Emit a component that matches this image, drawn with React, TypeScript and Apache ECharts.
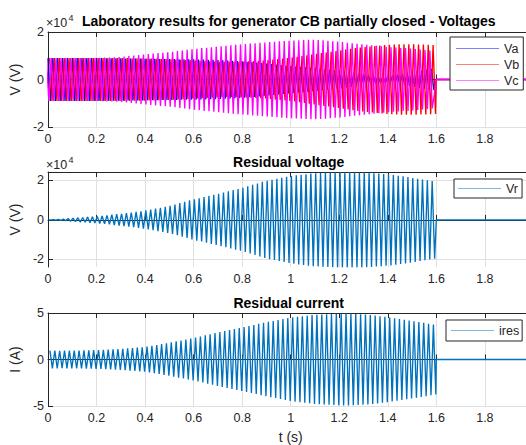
import React, { useEffect, useRef } from "react";
import * as echarts from "echarts";

// Carrier period (~10 cycles per 0.2 s)
const PERIOD = 0.02;
const END_T = 1.6;
const X_MAX = 2;
const VSCALE = 1e4;

const xTicks = ["0", "0.2", "0.4", "0.6", "0.8", "1", "1.2", "1.4", "1.6", "1.8"];

// Per-cycle peak amplitudes (x1e4 V)
const vaAmp = [
  0.9, 0.9, 0.9, 0.9, 0.9, 0.9, 0.9, 0.9, 0.9, 0.9,
  0.9, 0.9, 0.89, 0.89, 0.89, 0.89, 0.88, 0.88, 0.88, 0.88,
  0.87, 0.87, 0.87, 0.86, 0.86, 0.86, 0.86, 0.85, 0.85, 0.85,
  0.85, 0.84, 0.84, 0.83, 0.83, 0.82, 0.81, 0.8, 0.79, 0.78,
  0.77, 0.75, 0.73, 0.71, 0.69, 0.67, 0.65, 0.63, 0.61, 0.59,
  0.57, 0.55, 0.53, 0.51, 0.49, 0.47, 0.45, 0.43, 0.41, 0.39,
  0.37, 0.34, 0.31, 0.28, 0.25, 0.22, 0.19, 0.17, 0.15, 0.14,
  0.15, 0.18, 0.21, 0.24, 0.27, 0.31, 0.35, 0.39, 0.42, 0.45,
];
const vbAmp = [
  0.9, 0.9, 0.9, 0.9, 0.9, 0.9, 0.9, 0.9, 0.9, 0.9,
  0.9, 0.9, 0.9, 0.9, 0.9, 0.9, 0.9, 0.89, 0.89, 0.89,
  0.88, 0.88, 0.87, 0.86, 0.86, 0.85, 0.84, 0.83, 0.82, 0.81,
  0.8, 0.79, 0.78, 0.77, 0.76, 0.75, 0.75, 0.75, 0.75, 0.75,
  0.76, 0.77, 0.78, 0.79, 0.8, 0.82, 0.84, 0.86, 0.88, 0.9,
  0.93, 0.96, 0.99, 1.02, 1.05, 1.08, 1.11, 1.14, 1.17, 1.2,
  1.23, 1.26, 1.29, 1.32, 1.35, 1.37, 1.39, 1.41, 1.43, 1.45,
  1.46, 1.47, 1.48, 1.48, 1.48, 1.48, 1.47, 1.47, 1.46, 1.45,
];
const vcAmp = [
  0.9, 0.9, 0.9, 0.9, 0.9, 0.9, 0.9, 0.9, 0.9, 0.9,
  0.9, 0.91, 0.92, 0.93, 0.94, 0.95, 0.97, 0.99, 1.01, 1.03,
  1.05, 1.07, 1.09, 1.11, 1.13, 1.15, 1.17, 1.2, 1.22, 1.25,
  1.27, 1.29, 1.32, 1.34, 1.36, 1.38, 1.4, 1.42, 1.44, 1.46,
  1.47, 1.49, 1.51, 1.53, 1.55, 1.56, 1.58, 1.59, 1.61, 1.62,
  1.63, 1.64, 1.65, 1.66, 1.67, 1.67, 1.66, 1.65, 1.63, 1.61,
  1.6, 1.58, 1.55, 1.53, 1.5, 1.48, 1.46, 1.44, 1.42, 1.4,
  1.38, 1.36, 1.35, 1.33, 1.32, 1.3, 1.28, 1.26, 1.24, 1.22,
];
// Residual voltage per-cycle peaks (x1e4 V)
const vrAmp = [
  0.0, 0.01, 0.02, 0.04, 0.07, 0.09, 0.11, 0.12, 0.14, 0.16,
  0.18, 0.2, 0.23, 0.26, 0.29, 0.31, 0.34, 0.37, 0.41, 0.44,
  0.48, 0.52, 0.57, 0.61, 0.66, 0.71, 0.78, 0.85, 0.92, 0.99,
  1.05, 1.1, 1.16, 1.22, 1.27, 1.33, 1.39, 1.45, 1.51, 1.57,
  1.63, 1.7, 1.78, 1.85, 1.93, 1.99, 2.04, 2.09, 2.14, 2.19,
  2.23, 2.26, 2.29, 2.32, 2.35, 2.37, 2.38, 2.39, 2.4, 2.41,
  2.42, 2.42, 2.42, 2.41, 2.41, 2.4, 2.39, 2.37, 2.35, 2.33,
  2.31, 2.28, 2.24, 2.21, 2.17, 2.13, 2.09, 2.05, 2.01, 1.97,
];
// Residual current per-cycle peaks (A)
const iresAmp = [
  0.95, 0.96, 0.94, 0.95, 0.95, 0.96, 0.97, 0.98, 0.99, 1.0,
  1.01, 1.04, 1.07, 1.1, 1.13, 1.16, 1.2, 1.24, 1.28, 1.32,
  1.38, 1.47, 1.56, 1.65, 1.75, 1.85, 1.95, 2.05, 2.15, 2.25,
  2.36, 2.48, 2.6, 2.72, 2.84, 2.95, 3.06, 3.17, 3.28, 3.39,
  3.5, 3.61, 3.72, 3.83, 3.94, 4.05, 4.15, 4.25, 4.35, 4.45,
  4.53, 4.59, 4.65, 4.71, 4.77, 4.81, 4.84, 4.87, 4.9, 4.93,
  4.95, 4.94, 4.92, 4.9, 4.87, 4.83, 4.78, 4.72, 4.66, 4.6,
  4.52, 4.44, 4.36, 4.28, 4.2, 4.12, 4.03, 3.94, 3.85, 3.75,
];

// phase shift of each trace (s) within a cycle
const phaseShift = { Va: 0, Vb: 0.00667, Vc: -0.00667, Vr: 0.003, ires: 0.008 };

function peaksToLine(amp: number[], shift: number, scale: number) {
  const pts: [number, number][] = [];
  amp.forEach((a, k) => {
    const t0 = k * PERIOD + shift;
    pts.push([t0, a * scale]);
    pts.push([t0 + PERIOD / 2, -a * scale]);
  });
  pts.push([END_T, 0]);
  pts.push([X_MAX, 0]);
  return pts;
}

const FONT = "'Liberation Sans', Arial, Helvetica, sans-serif";
const AXC = "#262626";
const GRIDC = "#e0e0e0";
const LEGEND_ICON = "path://M0,0 M0,5.4 L100,5.4 L100,6.6 L0,6.6 Z M100,12";

export default function App() {
  const ref = useRef<HTMLDivElement>(null);
  useEffect(() => {
    if (!ref.current) return;
    const chart = echarts.init(ref.current, undefined, { renderer: "svg" });
    const LEFT = 44;
    const RIGHT_EDGE = 533.4;
    const grids = [
      { left: LEFT, width: RIGHT_EDGE - LEFT, top: 32, height: 95 },
      { left: LEFT, width: RIGHT_EDGE - LEFT, top: 172, height: 95 },
      { left: LEFT, width: RIGHT_EDGE - LEFT, top: 313, height: 95 },
    ];
    const xBottom = (gi: number, name?: string) => ({
      type: "value",
      gridIndex: gi,
      min: 0,
      max: X_MAX,
      interval: 0.2,
      position: "bottom",
      axisLine: { show: true, lineStyle: { color: AXC, width: 1 } },
      axisTick: { show: true, inside: true, length: 5, lineStyle: { color: AXC } },
      axisLabel: {
        show: true,
        margin: 5,
        fontSize: 12.5,
        color: AXC,
        fontFamily: FONT,
        formatter: (v: number) => {
          const i = Math.round(v / 0.2);
          return i < xTicks.length ? xTicks[i] : "";
        },
      },
      splitLine: { show: true, lineStyle: { color: GRIDC, width: 1 } },
      name: name || "",
      nameLocation: "middle",
      nameGap: 24,
      nameTextStyle: { fontSize: 14, color: AXC, fontFamily: FONT },
    });
    const xTop = (gi: number) => ({
      type: "value",
      gridIndex: gi,
      min: 0,
      max: X_MAX,
      interval: 0.2,
      position: "top",
      axisLine: { show: true, lineStyle: { color: AXC, width: 1 } },
      axisTick: { show: true, inside: true, length: 5, lineStyle: { color: AXC } },
      axisLabel: { show: false },
      splitLine: { show: false },
    });
    const yAx = (gi: number, min: number, max: number, interval: number, name: string, fmt: (v: number) => string, custom?: number[]) => {
      const ax: any = {
        type: "value",
        gridIndex: gi,
        min,
        max,
        interval,
        axisLine: { show: true, lineStyle: { color: AXC, width: 1 } },
        axisTick: { show: true, inside: true, length: 5, lineStyle: { color: AXC } },
        axisLabel: { show: true, margin: 4, fontSize: 12.5, color: AXC, fontFamily: FONT, formatter: fmt },
        splitLine: { show: true, lineStyle: { color: GRIDC, width: 1 } },
        name,
        nameLocation: "middle",
        nameGap: 15,
        nameTextStyle: { fontSize: 14, color: AXC, fontFamily: FONT },
      };
      if (custom) {
        ax.axisTick.customValues = custom;
        ax.axisLabel.customValues = custom;
      }
      return ax;
    };
    const line = (name: string, data: [number, number][], color: string, idx: number) => ({
      type: "line",
      name,
      xAxisIndex: idx,
      yAxisIndex: idx,
      data,
      symbol: "none",
      showSymbol: false,
      lineStyle: { color, width: 1.35 },
      itemStyle: { color },
      clip: true,
    });
    const legendBase = {
      orient: "vertical",
      backgroundColor: "#ffffff",
      borderColor: AXC,
      borderWidth: 1,
      borderRadius: 0,
      itemWidth: 43,
      itemHeight: 12,
      itemGap: 3,
      icon: LEGEND_ICON,
      textStyle: { fontSize: 12.5, color: AXC, fontFamily: FONT, lineHeight: 12 },
      selectedMode: false,
    };
    const titleStyle = { fontSize: 14, fontWeight: "bold", fill: "#000", fontFamily: FONT };
    const CX = (LEFT + RIGHT_EDGE) / 2;
    chart.setOption({
      animation: false,
      grid: grids,
      xAxis: [xBottom(0), xBottom(1), xBottom(2, "t (s)"), xTop(0), xTop(1), xTop(2)],
      yAxis: [
        yAx(0, -2e4, 2e4, 2e4, "V (V)", (v) => String(Math.round(v / VSCALE))),
        yAx(1, -23900, 24300, 2e4, "V (V)", (v) => String(Math.round(v / VSCALE)), [-2e4, 0, 2e4]),
        yAx(2, -5, 5, 5, "I (A)", (v) => String(v)),
      ],
      legend: [
        { ...legendBase, data: ["Va", "Vb", "Vc"], left: 450, top: 37, padding: [5, 4, 3, 6] },
        { ...legendBase, data: ["Vr"], left: 454, top: 179, padding: [3, 4, 3, 4] },
        { ...legendBase, data: ["ires"], left: 446, top: 320, padding: [4, 3, 4, 5] },
      ],
      series: [
        line("Va", peaksToLine(vaAmp, phaseShift.Va, VSCALE), "#0000ff", 0),
        line("Vb", peaksToLine(vbAmp, phaseShift.Vb, VSCALE), "#ff0000", 0),
        line("Vc", peaksToLine(vcAmp, phaseShift.Vc, VSCALE), "#ff00ff", 0),
        line("Vr", peaksToLine(vrAmp, phaseShift.Vr, VSCALE), "#0072bd", 1),
        line("ires", peaksToLine(iresAmp, phaseShift.ires, 1), "#0072bd", 2),
      ],
      graphic: [
        { type: "text", x: CX, y: 21, style: { ...titleStyle, text: "Laboratory results for generator CB partially closed - Voltages", textAlign: "center", textVerticalAlign: "middle" } },
        { type: "text", x: CX, y: 162, style: { ...titleStyle, text: "Residual voltage", textAlign: "center", textVerticalAlign: "middle" } },
        { type: "text", x: CX, y: 303, style: { ...titleStyle, text: "Residual current", textAlign: "center", textVerticalAlign: "middle" } },
        { type: "text", x: 46, y: 22.5, style: { text: "×10", fontSize: 12.5, fill: AXC, fontFamily: FONT, textVerticalAlign: "middle" } },
        { type: "text", x: 68.5, y: 17.5, style: { text: "4", fontSize: 9, fill: AXC, fontFamily: FONT, textVerticalAlign: "middle" } },
        { type: "text", x: 46, y: 164.5, style: { text: "×10", fontSize: 12.5, fill: AXC, fontFamily: FONT, textVerticalAlign: "middle" } },
        { type: "text", x: 68.5, y: 159.5, style: { text: "4", fontSize: 9, fill: AXC, fontFamily: FONT, textVerticalAlign: "middle" } },
      ],
    });
    return () => chart.dispose();
  }, []);
  return (
    <div style={{ position: "fixed", left: 0, top: 0, width: 526, height: 445, overflow: "hidden", background: "#fff" }}>
      <div ref={ref} style={{ width: 545, height: 445 }} />
    </div>
  );
}
